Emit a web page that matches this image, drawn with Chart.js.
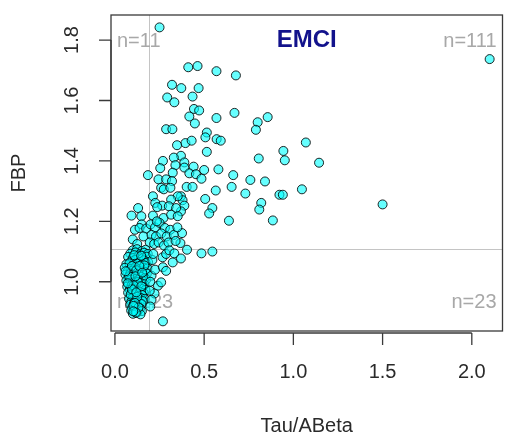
<!DOCTYPE html>
<html>
<head>
<meta charset="utf-8">
<script src="https://cdn.jsdelivr.net/npm/chart.js@4.4.1/dist/chart.umd.min.js"></script>
<style>
  html, body { margin: 0; padding: 0; background: #fff; }
  canvas { display: block; }
</style>
</head>
<body>
<canvas id="chart" width="508" height="438"></canvas>
<script>
// axis ticks
const xTicks = [0, 0.5, 1, 1.5, 2];
const xTickLabels = ["0.0", "0.5", "1.0", "1.5", "2.0"];
const yTicks = [1.0, 1.2, 1.4, 1.6, 1.8];
const yTickLabels = ["1.0", "1.2", "1.4", "1.6", "1.8"];

// cut lines and quadrant counts
const cutX = 0.19;
const cutY = 1.11;
const quadLabels = ["n=11", "n=111", "n=123", "n=23"];

// Tau/ABeta vs FBP, by quadrant
const topLeft = [
  [0.185, 1.353], [0.13, 1.244], [0.093, 1.219], [0.148, 1.217], [0.15, 1.19],
  [0.112, 1.172], [0.138, 1.178], [0.175, 1.176], [0.1, 1.14], [0.16, 1.15], [0.125, 1.125]
];

const topRight = [
  [0.25, 1.842], [0.411, 1.71], [0.463, 1.714], [0.569, 1.697], [0.678, 1.683],
  [0.32, 1.652], [0.372, 1.641], [0.469, 1.641], [0.293, 1.61], [0.333, 1.594],
  [0.435, 1.613], [0.443, 1.572], [0.472, 1.567], [0.417, 1.547], [0.448, 1.524],
  [0.287, 1.505], [0.322, 1.505], [0.569, 1.542], [0.67, 1.559], [0.8, 1.528],
  [0.856, 1.545], [0.79, 1.503], [0.515, 1.494], [0.507, 1.478], [0.395, 1.459],
  [0.43, 1.467], [0.57, 1.472], [0.593, 1.467], [0.348, 1.452],
  [1.07, 1.461], [0.944, 1.433], [0.952, 1.402], [1.144, 1.394], [0.806, 1.408],
  [0.841, 1.332], [1.048, 1.306], [0.922, 1.288], [0.941, 1.288], [0.82, 1.261],
  [0.809, 1.239], [0.885, 1.203], [1.5, 1.256], [2.1, 1.737],
  [0.515, 1.43], [0.37, 1.417], [0.389, 1.395], [0.389, 1.378], [0.441, 1.381],
  [0.417, 1.359], [0.454, 1.356], [0.5, 1.37], [0.485, 1.341], [0.58, 1.372],
  [0.663, 1.353], [0.759, 1.337], [0.654, 1.314], [0.402, 1.314], [0.435, 1.314],
  [0.565, 1.302], [0.731, 1.292], [0.37, 1.283], [0.379, 1.27], [0.389, 1.252],
  [0.37, 1.233], [0.506, 1.274], [0.546, 1.244], [0.528, 1.226], [0.639, 1.202],
  [0.376, 1.161], [0.367, 1.128], [0.33, 1.411], [0.339, 1.386], [0.324, 1.361],
  [0.269, 1.4], [0.254, 1.376], [0.244, 1.339], [0.287, 1.339], [0.32, 1.333],
  [0.259, 1.311], [0.274, 1.306], [0.311, 1.311], [0.352, 1.283], [0.213, 1.283],
  [0.226, 1.261], [0.265, 1.252], [0.237, 1.247], [0.315, 1.272], [0.302, 1.25],
  [0.343, 1.244], [0.213, 1.219], [0.272, 1.211], [0.315, 1.222], [0.352, 1.217],
  [0.2, 1.19], [0.225, 1.18], [0.25, 1.195], [0.28, 1.178], [0.31, 1.172],
  [0.205, 1.155], [0.23, 1.15], [0.26, 1.16], [0.29, 1.15], [0.33, 1.155],
  [0.195, 1.13], [0.22, 1.125], [0.245, 1.13], [0.275, 1.12], [0.3, 1.13],
  [0.34, 1.135], [0.35, 1.18], [0.235, 1.2]
];

const bottomLeft = [
  [0.100, 1.104], [0.124, 1.108], [0.151, 1.102], [0.172, 1.106],
  [0.086, 1.093], [0.116, 1.097], [0.139, 1.091], [0.164, 1.096], [0.184, 1.092],
  [0.074, 1.082], [0.101, 1.079], [0.131, 1.084], [0.156, 1.078], [0.178, 1.083],
  [0.092, 1.068], [0.114, 1.072], [0.141, 1.066], [0.162, 1.071], [0.186, 1.065],
  [0.064, 1.058], [0.081, 1.061], [0.106, 1.055], [0.128, 1.06], [0.151, 1.057], [0.172, 1.062],
  [0.055, 1.046], [0.091, 1.043], [0.114, 1.048], [0.138, 1.042], [0.159, 1.047], [0.182, 1.044],
  [0.071, 1.034], [0.099, 1.037], [0.126, 1.031], [0.147, 1.036], [0.169, 1.033],
  [0.059, 1.024], [0.086, 1.027], [0.111, 1.021], [0.135, 1.026], [0.157, 1.022], [0.179, 1.027],
  [0.076, 1.013], [0.097, 1.016], [0.123, 1.011], [0.144, 1.017], [0.167, 1.012],
  [0.064, 1.004], [0.088, 1.007], [0.109, 1.001], [0.133, 1.006], [0.154, 1.003], [0.176, 1.008],
  [0.079, 0.994], [0.101, 0.997], [0.119, 0.991], [0.143, 0.996], [0.164, 0.992],
  [0.069, 0.984], [0.093, 0.987], [0.114, 0.982], [0.136, 0.986], [0.157, 0.983],
  [0.083, 0.974], [0.104, 0.977], [0.129, 0.972], [0.149, 0.976], [0.171, 0.973],
  [0.074, 0.964], [0.097, 0.967], [0.118, 0.962], [0.139, 0.966], [0.161, 0.963],
  [0.089, 0.954], [0.111, 0.957], [0.131, 0.952], [0.153, 0.956],
  [0.079, 0.944], [0.101, 0.947], [0.122, 0.942], [0.146, 0.946], [0.166, 0.943],
  [0.092, 0.934], [0.114, 0.937], [0.137, 0.932], [0.156, 0.936],
  [0.086, 0.924], [0.106, 0.927], [0.127, 0.922], [0.149, 0.926],
  [0.096, 0.914], [0.118, 0.917], [0.141, 0.912],
  [0.091, 0.905], [0.111, 0.902], [0.131, 0.906], [0.151, 0.903],
  [0.101, 0.894], [0.122, 0.897], [0.143, 0.892],
  [0.108, 1.088], [0.147, 1.086], [0.095, 1.052], [0.12, 1.038], [0.165, 1.054],
  [0.08, 1.018], [0.128, 0.999], [0.105, 0.988], [0.148, 0.985], [0.088, 0.958],
  [0.125, 0.95], [0.112, 0.93], [0.132, 0.915], [0.104, 0.92], [0.117, 0.898],
  [0.095, 0.975], [0.137, 1.052], [0.06, 1.035], [0.115, 1.018], [0.153, 1.03],
  [0.072, 0.995], [0.12, 0.965], [0.103, 0.902]
];

const bottomRight = [
  [0.269, 0.869], [0.241, 0.987], [0.259, 0.998], [0.222, 0.961], [0.205, 0.94],
  [0.198, 0.918], [0.205, 1.02], [0.225, 1.04], [0.269, 1.048], [0.287, 1.036],
  [0.267, 1.081], [0.287, 1.092], [0.305, 1.104], [0.324, 1.064], [0.333, 1.094],
  [0.37, 1.077], [0.404, 1.106], [0.485, 1.094], [0.546, 1.1], [0.21, 1.072],
  [0.198, 1.0], [0.215, 1.092], [0.195, 0.97]
];

const allPoints = topLeft.concat(topRight, bottomLeft, bottomRight)
  .map(p => ({ x: p[0], y: p[1] }));

const FONT = '"Liberation Sans", Arial, sans-serif';

// R-style frame, axes, cut lines and texts
const rStyle = {
  id: "rStyle",
  beforeDatasetsDraw(chart) {
    const { ctx, chartArea: a, scales: { x, y } } = chart;
    ctx.save();
    // cut lines
    ctx.strokeStyle = "#c4c4c4";
    ctx.lineWidth = 1;
    const vx = Math.round(x.getPixelForValue(cutX)) + 0.5;
    const hy = Math.round(y.getPixelForValue(cutY)) + 0.5;
    ctx.beginPath();
    ctx.moveTo(vx, a.top); ctx.lineTo(vx, a.bottom);
    ctx.moveTo(a.left, hy); ctx.lineTo(a.right, hy);
    ctx.stroke();

    // quadrant counts
    ctx.fillStyle = "#a8a8a8";
    ctx.font = "20px " + FONT;
    ctx.textBaseline = "middle";
    ctx.textAlign = "left";
    ctx.fillText(quadLabels[0], a.left + 6, y.getPixelForValue(1.8) + 1);
    ctx.fillText(quadLabels[2], a.left + 6, y.getPixelForValue(0.93));
    ctx.textAlign = "right";
    ctx.fillText(quadLabels[1], a.right - 6, y.getPixelForValue(1.8) + 1);
    ctx.fillText(quadLabels[3], a.right - 6, y.getPixelForValue(0.93));

    // group title
    ctx.fillStyle = "#12128c";
    ctx.font = "bold 24px " + FONT;
    ctx.textAlign = "center";
    ctx.fillText("EMCI", (a.left + a.right) / 2, y.getPixelForValue(1.8));
    ctx.restore();
  },
  afterDraw(chart) {
    const { ctx, chartArea: a, scales: { x, y } } = chart;
    ctx.save();
    ctx.strokeStyle = "#3a3a3a";
    ctx.lineWidth = 1.3;
    ctx.strokeRect(a.left, a.top, a.right - a.left, a.bottom - a.top);

    // x axis
    const ax = a.bottom + 2;
    ctx.beginPath();
    ctx.moveTo(x.getPixelForValue(xTicks[0]), ax);
    ctx.lineTo(x.getPixelForValue(xTicks[xTicks.length - 1]), ax);
    xTicks.forEach(v => {
      const px = x.getPixelForValue(v);
      ctx.moveTo(px, ax); ctx.lineTo(px, ax + 12);
    });
    // y axis
    const ay = a.left;
    ctx.moveTo(ay, y.getPixelForValue(yTicks[0]));
    ctx.lineTo(ay, y.getPixelForValue(yTicks[yTicks.length - 1]));
    yTicks.forEach(v => {
      const py = y.getPixelForValue(v);
      ctx.moveTo(ay, py); ctx.lineTo(ay - 12, py);
    });
    ctx.stroke();

    ctx.fillStyle = "#2a2a2a";
    ctx.font = "20px " + FONT;
    ctx.textAlign = "center";
    ctx.textBaseline = "middle";
    xTicks.forEach((v, i) => {
      ctx.fillText(xTickLabels[i], x.getPixelForValue(v), a.bottom + 41);
    });
    yTicks.forEach((v, i) => {
      ctx.save();
      ctx.translate(a.left - 39, y.getPixelForValue(v));
      ctx.rotate(-Math.PI / 2);
      ctx.fillText(yTickLabels[i], 0, 0);
      ctx.restore();
    });

    // axis titles
    ctx.fillText("Tau/ABeta", (a.left + a.right) / 2, a.bottom + 95);
    ctx.save();
    ctx.translate(19, (a.top + a.bottom) / 2);
    ctx.rotate(-Math.PI / 2);
    ctx.fillText("FBP", 0, 0);
    ctx.restore();
    ctx.restore();
  }
};

new Chart(document.getElementById("chart"), {
  type: "scatter",
  data: {
    datasets: [{
      data: allPoints,
      pointRadius: 4.5,
      pointBorderWidth: 1,
      pointBackgroundColor: "rgba(0, 255, 255, 0.6)",
      pointBorderColor: "rgba(0, 0, 0, 0.85)"
    }]
  },
  options: {
    responsive: false,
    animation: false,
    layout: { padding: { left: 111, top: 15, right: 2, bottom: 107 } },
    plugins: { legend: { display: false }, tooltip: { enabled: false } },
    scales: {
      x: { type: "linear", min: -0.022, max: 2.172, display: false },
      y: { type: "linear", min: 0.837, max: 1.883, display: false }
    }
  },
  plugins: [rStyle]
});
</script>
</body>
</html>
